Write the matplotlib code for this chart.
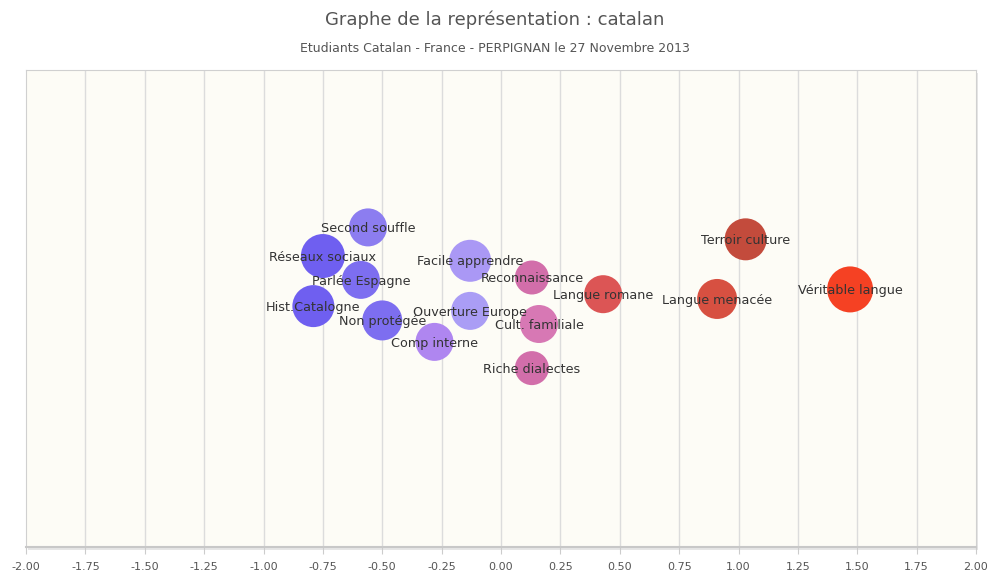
import matplotlib
matplotlib.use("Agg")
import matplotlib.pyplot as plt
from matplotlib.patches import Rectangle

labels = ["Second souffle", "Réseaux sociaux", "Parlée Espagne", "Hist.Catalogne",
          "Non protégée", "Comp interne", "Facile apprendre", "Ouverture Europe",
          "Reconnaissance", "Cult. familiale", "Riche dialectes", "Langue romane",
          "Langue menacée", "Terroir culture", "Véritable langue"]
x_vals = [-0.56, -0.75, -0.59, -0.79, -0.50, -0.28, -0.13, -0.13,
          0.13, 0.16, 0.13, 0.43, 0.91, 1.03, 1.47]
y_vals = [0.34, 0.22, 0.12, 0.01, -0.05, -0.14, 0.20, -0.01,
          0.13, -0.065, -0.25, 0.06, 0.04, 0.29, 0.08]
sizes = [19, 22, 19, 21, 20, 19, 21, 19, 17, 19, 17, 19, 20, 21, 23]
colors = ["#8c7df0", "#6f5ff0", "#7d6ef0", "#6f5ff0", "#7d6ef0", "#af86f0",
          "#aa98f5", "#aa9df5", "#d26eaa", "#d778b4", "#d26eaa", "#dc5555",
          "#d75041", "#c34b3c", "#f54123"]
x_ticks = [-2.0, -1.75, -1.5, -1.25, -1.0, -0.75, -0.5, -0.25, 0.0,
           0.25, 0.5, 0.75, 1.0, 1.25, 1.5, 1.75, 2.0]

title = "Graphe de la représentation : catalan"
subtitle = "Etudiants Catalan - France - PERPIGNAN le 27 Novembre 2013"

DPI = 100
fig = plt.figure(figsize=(9.89, 5.73), dpi=DPI)
fig.patch.set_facecolor("white")
ax = fig.add_axes([26/989, 26/573, 950/989, 477/573])
ax.set_facecolor("#fdfcf6")
ax.set_xlim(-2, 2)
ax.set_ylim(-1, 1)

# shadow of the plot frame
fig.patches.append(Rectangle((28/989, 23/573), 950/989, 477/573,
                             transform=fig.transFigure, facecolor="#e6e6e6",
                             edgecolor="none", zorder=-1))

for xv in x_ticks[1:-1]:
    ax.axvline(xv, color="#dcdcdc", lw=1.0, zorder=0)

s = [(2 * r * 72 / DPI) ** 2 for r in sizes]
ax.scatter(x_vals, y_vals, s=s, c=colors, edgecolors="none", zorder=2)
for lab, xv, yv in zip(labels, x_vals, y_vals):
    ax.text(xv, yv - 0.005, lab, ha="center", va="center", fontsize=9.2,
            color="#333333", zorder=3, family="DejaVu Sans")

ax.set_xticks(x_ticks)
ax.set_xticklabels([f"{t:.2f}" for t in x_ticks], fontsize=8, color="#555555")
ax.tick_params(axis="x", length=5, color="#cccccc", pad=6)
ax.set_yticks([])
for side in ["left", "right", "top"]:
    ax.spines[side].set_color("#d0d0d0")
    ax.spines[side].set_linewidth(0.8)
ax.spines["bottom"].set_color("#c8c8c8")
ax.spines["bottom"].set_linewidth(1.5)

fig.text(0.5, 1 - 20/573, title, ha="center", va="center", fontsize=13, color="#555555")
fig.text(0.5, 1 - 48/573, subtitle, ha="center", va="center", fontsize=9, color="#555555")

fig.savefig("out.png", dpi=DPI)
